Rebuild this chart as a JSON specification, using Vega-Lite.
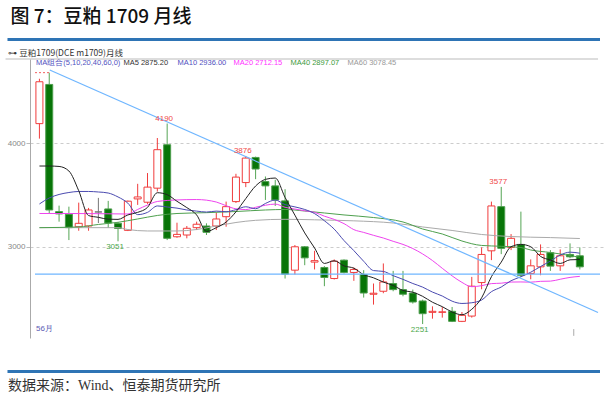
{
  "$schema": "https://vega.github.io/schema/vega-lite/v6.json",
  "width": 575,
  "height": 279,
  "autosize": {"type": "none"},
  "padding": {"left": 30, "top": 59, "right": 8, "bottom": 60},
  "background": "#ffffff",
  "config": {
    "view": {"stroke": null},
    "axisY": {"grid": true, "gridColor": "#cccccc", "gridDash": [3, 3], "gridWidth": 1,
              "domainColor": "#aaaaaa", "tickColor": "#bbbbbb", "tickSize": 4, "labelPadding": 1,
              "labelColor": "#888888", "labelFontSize": 8, "labelFont": "Liberation Sans", "format": "d"}
  },
  "data": {"values": [{}]},
  "datasets": {
    "k": [
      {"i":0,"o":4189,"h":4623,"l":4044,"c":4594},
      {"i":1,"o":4568,"h":4682,"l":3316,"c":3354},
      {"i":2,"o":3338,"h":3396,"l":3241,"c":3316},
      {"i":3,"o":3313,"h":3386,"l":3063,"c":3183},
      {"i":4,"o":3192,"h":3425,"l":3153,"c":3225},
      {"i":5,"o":3199,"h":3374,"l":3153,"c":3354},
      {"i":6,"o":3335,"h":3471,"l":3228,"c":3335},
      {"i":7,"o":3364,"h":3442,"l":3180,"c":3228},
      {"i":8,"o":3225,"h":3238,"l":3051,"c":3175},
      {"i":9,"o":3157,"h":3445,"l":3150,"c":3439},
      {"i":10,"o":3461,"h":3607,"l":3403,"c":3480},
      {"i":11,"o":3429,"h":3711,"l":3413,"c":3575},
      {"i":12,"o":3565,"h":4050,"l":3532,"c":3937},
      {"i":13,"o":3985,"h":4190,"l":3063,"c":3080},
      {"i":14,"o":3095,"h":3231,"l":3085,"c":3118},
      {"i":15,"o":3112,"h":3199,"l":3080,"c":3177},
      {"i":16,"o":3183,"h":3241,"l":3160,"c":3216},
      {"i":17,"o":3199,"h":3225,"l":3112,"c":3138},
      {"i":18,"o":3199,"h":3328,"l":3160,"c":3267},
      {"i":19,"o":3289,"h":3435,"l":3192,"c":3386},
      {"i":20,"o":3435,"h":3704,"l":3422,"c":3672},
      {"i":21,"o":3619,"h":3876,"l":3575,"c":3856},
      {"i":22,"o":3862,"h":3870,"l":3652,"c":3750},
      {"i":23,"o":3629,"h":3678,"l":3451,"c":3587},
      {"i":24,"o":3587,"h":3646,"l":3393,"c":3451},
      {"i":25,"o":3442,"h":3555,"l":2691,"c":2733},
      {"i":26,"o":2772,"h":3015,"l":2730,"c":2998},
      {"i":27,"o":2998,"h":3005,"l":2820,"c":2891},
      {"i":28,"o":2850,"h":2959,"l":2779,"c":2864},
      {"i":29,"o":2798,"h":2811,"l":2617,"c":2701},
      {"i":30,"o":2691,"h":2876,"l":2682,"c":2859},
      {"i":31,"o":2869,"h":2876,"l":2740,"c":2750},
      {"i":32,"o":2750,"h":2798,"l":2669,"c":2779},
      {"i":33,"o":2730,"h":2772,"l":2507,"c":2551},
      {"i":34,"o":2539,"h":2643,"l":2439,"c":2549},
      {"i":35,"o":2568,"h":2837,"l":2549,"c":2658},
      {"i":36,"o":2643,"h":2765,"l":2568,"c":2584},
      {"i":37,"o":2584,"h":2765,"l":2519,"c":2539},
      {"i":38,"o":2551,"h":2584,"l":2449,"c":2464},
      {"i":39,"o":2474,"h":2487,"l":2251,"c":2351},
      {"i":40,"o":2364,"h":2422,"l":2303,"c":2374},
      {"i":41,"o":2364,"h":2416,"l":2313,"c":2369},
      {"i":42,"o":2374,"h":2416,"l":2270,"c":2277},
      {"i":43,"o":2277,"h":2367,"l":2270,"c":2335},
      {"i":44,"o":2328,"h":2707,"l":2313,"c":2617},
      {"i":45,"o":2652,"h":2992,"l":2587,"c":2924},
      {"i":46,"o":2959,"h":3435,"l":2869,"c":3393},
      {"i":47,"o":3386,"h":3577,"l":2927,"c":2983},
      {"i":48,"o":2992,"h":3121,"l":2966,"c":3080},
      {"i":49,"o":3021,"h":3338,"l":2707,"c":2723},
      {"i":50,"o":2740,"h":2876,"l":2684,"c":2814},
      {"i":51,"o":2804,"h":3021,"l":2723,"c":2924},
      {"i":52,"o":2940,"h":2966,"l":2765,"c":2811},
      {"i":53,"o":2814,"h":2973,"l":2765,"c":2911},
      {"i":54,"o":2924,"h":3031,"l":2888,"c":2901},
      {"i":55,"o":2911,"h":2992,"l":2779,"c":2804}
    ],
    "ma": [
      {"s":"MA60","i":0,"v":3183},{"s":"MA60","i":8,"v":3183},{"s":"MA60","i":9,"v":3165},{"s":"MA60","i":11,"v":3151},{"s":"MA60","i":14,"v":3151},{"s":"MA60","i":16,"v":3165},{"s":"MA60","i":18,"v":3199},{"s":"MA60","i":20,"v":3233},{"s":"MA60","i":22,"v":3254},{"s":"MA60","i":25,"v":3264},{"s":"MA60","i":28,"v":3259},{"s":"MA60","i":32,"v":3249},{"s":"MA60","i":36,"v":3228},{"s":"MA60","i":39,"v":3190},{"s":"MA60","i":42,"v":3156},{"s":"MA60","i":45,"v":3117},{"s":"MA60","i":48,"v":3097},{"s":"MA60","i":52,"v":3087},{"s":"MA60","i":55,"v":3078},
      {"s":"MA40","i":0,"v":3183},{"s":"MA40","i":4,"v":3190},{"s":"MA40","i":6,"v":3214},{"s":"MA40","i":8,"v":3235},{"s":"MA40","i":10,"v":3267},{"s":"MA40","i":12,"v":3301},{"s":"MA40","i":14,"v":3320},{"s":"MA40","i":17,"v":3328},{"s":"MA40","i":20,"v":3339},{"s":"MA40","i":23,"v":3354},{"s":"MA40","i":25,"v":3359},{"s":"MA40","i":27,"v":3344},{"s":"MA40","i":29,"v":3325},{"s":"MA40","i":31,"v":3306},{"s":"MA40","i":34,"v":3281},{"s":"MA40","i":37,"v":3238},{"s":"MA40","i":39,"v":3170},{"s":"MA40","i":41,"v":3122},{"s":"MA40","i":43,"v":3054},{"s":"MA40","i":45,"v":3011},{"s":"MA40","i":47,"v":3003},{"s":"MA40","i":49,"v":2991},{"s":"MA40","i":50,"v":2967},{"s":"MA40","i":52,"v":2943},{"s":"MA40","i":55,"v":2897},
      {"s":"MA20","i":0,"v":3320},{"s":"MA20","i":3,"v":3320},{"s":"MA20","i":6,"v":3318},{"s":"MA20","i":9,"v":3315},{"s":"MA20","i":10,"v":3359},{"s":"MA20","i":11,"v":3402},{"s":"MA20","i":12,"v":3436},{"s":"MA20","i":14,"v":3451},{"s":"MA20","i":16,"v":3455},{"s":"MA20","i":18,"v":3431},{"s":"MA20","i":19,"v":3395},{"s":"MA20","i":20,"v":3365},{"s":"MA20","i":21,"v":3358},{"s":"MA20","i":22,"v":3380},{"s":"MA20","i":23,"v":3400},{"s":"MA20","i":24,"v":3411},{"s":"MA20","i":25,"v":3380},{"s":"MA20","i":26,"v":3363},{"s":"MA20","i":27,"v":3346},{"s":"MA20","i":28,"v":3331},{"s":"MA20","i":29,"v":3294},{"s":"MA20","i":30,"v":3263},{"s":"MA20","i":31,"v":3222},{"s":"MA20","i":32,"v":3164},{"s":"MA20","i":33,"v":3137},{"s":"MA20","i":34,"v":3109},{"s":"MA20","i":35,"v":3083},{"s":"MA20","i":36,"v":3051},{"s":"MA20","i":37,"v":3021},{"s":"MA20","i":38,"v":2981},{"s":"MA20","i":39,"v":2929},{"s":"MA20","i":40,"v":2865},{"s":"MA20","i":41,"v":2790},{"s":"MA20","i":42,"v":2717},{"s":"MA20","i":43,"v":2654},{"s":"MA20","i":44,"v":2612},{"s":"MA20","i":45,"v":2622},{"s":"MA20","i":46,"v":2642},{"s":"MA20","i":47,"v":2646},{"s":"MA20","i":48,"v":2657},{"s":"MA20","i":49,"v":2658},{"s":"MA20","i":50,"v":2656},{"s":"MA20","i":51,"v":2664},{"s":"MA20","i":52,"v":2666},{"s":"MA20","i":53,"v":2684},{"s":"MA20","i":54,"v":2702},{"s":"MA20","i":55,"v":2712},
      {"s":"MA10","i":0,"v":3412},{"s":"MA10","i":1,"v":3470},{"s":"MA10","i":2,"v":3504},{"s":"MA10","i":3,"v":3523},{"s":"MA10","i":4,"v":3533},{"s":"MA10","i":5,"v":3533},{"s":"MA10","i":6,"v":3528},{"s":"MA10","i":7,"v":3518},{"s":"MA10","i":8,"v":3480},{"s":"MA10","i":9,"v":3420},{"s":"MA10","i":10,"v":3309},{"s":"MA10","i":11,"v":3331},{"s":"MA10","i":12,"v":3393},{"s":"MA10","i":13,"v":3383},{"s":"MA10","i":14,"v":3372},{"s":"MA10","i":15,"v":3354},{"s":"MA10","i":16,"v":3343},{"s":"MA10","i":17,"v":3334},{"s":"MA10","i":18,"v":3343},{"s":"MA10","i":19,"v":3337},{"s":"MA10","i":20,"v":3357},{"s":"MA10","i":21,"v":3385},{"s":"MA10","i":22,"v":3366},{"s":"MA10","i":23,"v":3417},{"s":"MA10","i":24,"v":3450},{"s":"MA10","i":25,"v":3406},{"s":"MA10","i":26,"v":3384},{"s":"MA10","i":27,"v":3359},{"s":"MA10","i":28,"v":3319},{"s":"MA10","i":29,"v":3250},{"s":"MA10","i":30,"v":3169},{"s":"MA10","i":31,"v":3058},{"s":"MA10","i":32,"v":2961},{"s":"MA10","i":33,"v":2858},{"s":"MA10","i":34,"v":2768},{"s":"MA10","i":35,"v":2760},{"s":"MA10","i":36,"v":2719},{"s":"MA10","i":37,"v":2683},{"s":"MA10","i":38,"v":2643},{"s":"MA10","i":39,"v":2608},{"s":"MA10","i":40,"v":2560},{"s":"MA10","i":41,"v":2522},{"s":"MA10","i":42,"v":2472},{"s":"MA10","i":43,"v":2450},{"s":"MA10","i":44,"v":2457},{"s":"MA10","i":45,"v":2483},{"s":"MA10","i":46,"v":2564},{"s":"MA10","i":47,"v":2609},{"s":"MA10","i":48,"v":2670},{"s":"MA10","i":49,"v":2708},{"s":"MA10","i":50,"v":2752},{"s":"MA10","i":51,"v":2807},{"s":"MA10","i":52,"v":2860},{"s":"MA10","i":53,"v":2918},{"s":"MA10","i":54,"v":2946},{"s":"MA10","i":55,"v":2936},
      {"s":"MA5","i":0,"v":3779},{"s":"MA5","i":1,"v":3779},{"s":"MA5","i":2,"v":3775},{"s":"MA5","i":3,"v":3731},{"s":"MA5","i":4,"v":3540},{"s":"MA5","i":5,"v":3300},{"s":"MA5","i":6,"v":3283},{"s":"MA5","i":7,"v":3265},{"s":"MA5","i":8,"v":3263},{"s":"MA5","i":9,"v":3306},{"s":"MA5","i":10,"v":3331},{"s":"MA5","i":11,"v":3379},{"s":"MA5","i":12,"v":3521},{"s":"MA5","i":13,"v":3502},{"s":"MA5","i":14,"v":3438},{"s":"MA5","i":15,"v":3377},{"s":"MA5","i":16,"v":3306},{"s":"MA5","i":17,"v":3146},{"s":"MA5","i":18,"v":3183},{"s":"MA5","i":19,"v":3237},{"s":"MA5","i":20,"v":3336},{"s":"MA5","i":21,"v":3464},{"s":"MA5","i":22,"v":3586},{"s":"MA5","i":23,"v":3650},{"s":"MA5","i":24,"v":3663},{"s":"MA5","i":25,"v":3475},{"s":"MA5","i":26,"v":3304},{"s":"MA5","i":27,"v":3132},{"s":"MA5","i":28,"v":2987},{"s":"MA5","i":29,"v":2837},{"s":"MA5","i":30,"v":2863},{"s":"MA5","i":31,"v":2813},{"s":"MA5","i":32,"v":2791},{"s":"MA5","i":33,"v":2728},{"s":"MA5","i":34,"v":2698},{"s":"MA5","i":35,"v":2657},{"s":"MA5","i":36,"v":2624},{"s":"MA5","i":37,"v":2576},{"s":"MA5","i":38,"v":2559},{"s":"MA5","i":39,"v":2519},{"s":"MA5","i":40,"v":2462},{"s":"MA5","i":41,"v":2419},{"s":"MA5","i":42,"v":2367},{"s":"MA5","i":43,"v":2341},{"s":"MA5","i":44,"v":2394},{"s":"MA5","i":45,"v":2504},{"s":"MA5","i":46,"v":2709},{"s":"MA5","i":47,"v":2850},{"s":"MA5","i":48,"v":2999},{"s":"MA5","i":49,"v":3021},{"s":"MA5","i":50,"v":2999},{"s":"MA5","i":51,"v":2905},{"s":"MA5","i":52,"v":2870},{"s":"MA5","i":53,"v":2837},{"s":"MA5","i":54,"v":2872},{"s":"MA5","i":55,"v":2875}
    ],
    "hi": [
      {"i":13,"v":4190,"t":"4190"},
      {"i":21,"v":3876,"t":"3876"},
      {"i":47,"v":3577,"t":"3577"}
    ],
    "lo": [
      {"i":8,"v":3051,"t":"3051"},
      {"i":39,"v":2251,"t":"2251"}
    ]
  },
  "layer": [
    {
      "data": {"name": "k"},
      "mark": {"type": "rule", "strokeWidth": 1},
      "encoding": {
        "x": {"field": "i", "type": "quantitative", "scale": {"domain": [-0.45, 57.05], "nice": false, "zero": false}, "axis": null},
        "y": {"field": "l", "type": "quantitative", "scale": {"domain": [2116, 4814], "nice": false, "zero": false}, "title": null,
              "axis": {"values": [3000, 4000], "title": null, "format": "d"}},
        "y2": {"field": "h"},
        "stroke": {"condition": [{"test": "datum.c > datum.o", "value": "#f03c3c"}, {"test": "datum.c < datum.o", "value": "#55a555"}], "value": "#777777"}
      }
    },
    {
      "data": {"name": "k"},
      "mark": {"type": "bar", "width": 7, "strokeWidth": 1},
      "encoding": {
        "x": {"field": "i", "type": "quantitative", "axis": null},
        "y": {"field": "o", "type": "quantitative", "title": null},
        "y2": {"field": "c"},
        "fill": {"condition": [{"test": "datum.c > datum.o", "value": "#ffffff"}, {"test": "datum.c < datum.o", "value": "#087508"}], "value": "#777777"},
        "stroke": {"condition": [{"test": "datum.c > datum.o", "value": "#f03c3c"}, {"test": "datum.c < datum.o", "value": "#4d9d4d"}], "value": "#777777"}
      }
    },
    {
      "data": {"name": "ma"},
      "mark": {"type": "line", "strokeWidth": 1, "interpolate": "monotone"},
      "encoding": {
        "x": {"field": "i", "type": "quantitative", "axis": null},
        "y": {"field": "v", "type": "quantitative", "title": null},
        "color": {"field": "s", "type": "nominal", "legend": null,
                  "scale": {"domain": ["MA5", "MA10", "MA20", "MA40", "MA60"], "range": ["#222222", "#4a4ab0", "#ee44ee", "#4ea04e", "#aaaaaa"]}},
        "detail": {"field": "s"}
      }
    },
    {
      "mark": {"type": "rule", "color": "#6fb6ff", "strokeWidth": 1.2},
      "encoding": {
        "x": {"datum": 1.05, "type": "quantitative", "axis": null},
        "y": {"datum": 4708, "type": "quantitative", "title": null},
        "x2": {"datum": 56.85},
        "y2": {"datum": 2363}
      }
    },
    {
      "mark": {"type": "rule", "color": "#6fb6ff", "strokeWidth": 1.2},
      "encoding": {
        "x": {"datum": -0.45, "type": "quantitative", "axis": null},
        "x2": {"datum": 57.05},
        "y": {"datum": 2733, "type": "quantitative", "title": null}
      }
    },
    {
      "mark": {"type": "rule", "color": "#f06060", "strokeWidth": 1, "strokeDash": [2, 2]},
      "encoding": {
        "x": {"datum": -0.45, "type": "quantitative", "axis": null},
        "x2": {"datum": 1},
        "y": {"datum": 4682, "type": "quantitative", "title": null}
      }
    },
    {
      "data": {"name": "hi"},
      "mark": {"type": "text", "baseline": "bottom", "dy": -1, "dx": -3, "fontSize": 8, "font": "Liberation Sans", "color": "#f04848"},
      "encoding": {
        "x": {"field": "i", "type": "quantitative", "axis": null},
        "y": {"field": "v", "type": "quantitative", "title": null},
        "text": {"field": "t"}
      }
    },
    {
      "data": {"name": "lo"},
      "mark": {"type": "text", "baseline": "top", "dy": 2, "dx": -3, "fontSize": 8, "font": "Liberation Sans", "color": "#4ca84c"},
      "encoding": {
        "x": {"field": "i", "type": "quantitative", "axis": null},
        "y": {"field": "v", "type": "quantitative", "title": null},
        "text": {"field": "t"}
      }
    },
    {
      "mark": {"type": "text", "text": "MA组合(5,10,20,40,60,0)", "align": "left", "baseline": "middle", "fontSize": 7.5, "font": "Liberation Sans", "color": "#5050c0"},
      "encoding": {"x": {"datum": -0.35, "type": "quantitative", "axis": null}, "y": {"datum": 4771, "type": "quantitative", "title": null}}
    },
    {
      "mark": {"type": "text", "text": "MA5 2875.20", "align": "left", "baseline": "middle", "fontSize": 7.5, "font": "Liberation Sans", "color": "#333333"},
      "encoding": {"x": {"datum": 8.55, "type": "quantitative", "axis": null}, "y": {"datum": 4771, "type": "quantitative", "title": null}}
    },
    {
      "mark": {"type": "text", "text": "MA10 2936.00", "align": "left", "baseline": "middle", "fontSize": 7.5, "font": "Liberation Sans", "color": "#5050c0"},
      "encoding": {"x": {"datum": 14.05, "type": "quantitative", "axis": null}, "y": {"datum": 4771, "type": "quantitative", "title": null}}
    },
    {
      "mark": {"type": "text", "text": "MA20 2712.15", "align": "left", "baseline": "middle", "fontSize": 7.5, "font": "Liberation Sans", "color": "#ff33ff"},
      "encoding": {"x": {"datum": 19.75, "type": "quantitative", "axis": null}, "y": {"datum": 4771, "type": "quantitative", "title": null}}
    },
    {
      "mark": {"type": "text", "text": "MA40 2897.07", "align": "left", "baseline": "middle", "fontSize": 7.5, "font": "Liberation Sans", "color": "#3c9a3c"},
      "encoding": {"x": {"datum": 25.55, "type": "quantitative", "axis": null}, "y": {"datum": 4771, "type": "quantitative", "title": null}}
    },
    {
      "mark": {"type": "text", "text": "MA60 3078.45", "align": "left", "baseline": "middle", "fontSize": 7.5, "font": "Liberation Sans", "color": "#999999"},
      "encoding": {"x": {"datum": 31.35, "type": "quantitative", "axis": null}, "y": {"datum": 4771, "type": "quantitative", "title": null}}
    },
    {
      "mark": {"type": "text", "text": "56月", "align": "left", "baseline": "middle", "fontSize": 8, "font": "Liberation Sans", "color": "#5a5ab4", "clip": false},
      "encoding": {"x": {"datum": -0.35, "type": "quantitative", "axis": null}, "y": {"datum": 2202, "type": "quantitative", "title": null}}
    },
    {
      "mark": {"type": "rule", "color": "#aaaaaa", "strokeWidth": 1},
      "encoding": {"x": {"datum": 54.38, "type": "quantitative", "axis": null}, "y": {"datum": 2202, "type": "quantitative", "title": null}, "y2": {"datum": 2137}}
    },
    {
      "mark": {"type": "text", "text": "图 7：豆粕 1709 月线", "align": "left", "baseline": "middle", "fontSize": 19, "font": "Noto Sans CJK SC", "fontWeight": 500, "color": "#111111", "clip": false},
      "encoding": {"x": {"datum": -2.95, "type": "quantitative", "axis": null}, "y": {"datum": 5220, "type": "quantitative", "title": null}}
    },
    {
      "mark": {"type": "rule", "color": "#2e74b5", "strokeWidth": 3, "clip": false},
      "encoding": {"x": {"datum": -3.25, "type": "quantitative", "axis": null}, "x2": {"datum": 57.05}, "y": {"datum": 5003, "type": "quantitative", "title": null}}
    },
    {
      "mark": {"type": "text", "text": "⊶ 豆粕1709(DCE m1709)月线", "align": "left", "baseline": "middle", "fontSize": 8.5, "font": "Noto Sans CJK SC", "color": "#333333", "clip": false},
      "encoding": {"x": {"datum": -3.15, "type": "quantitative", "axis": null}, "y": {"datum": 4872, "type": "quantitative", "title": null}}
    },
    {
      "mark": {"type": "rule", "color": "#bbbbbb", "strokeWidth": 1, "clip": false},
      "encoding": {"x": {"datum": -3.45, "type": "quantitative", "axis": null}, "x2": {"datum": 56.85}, "y": {"datum": 4814, "type": "quantitative", "title": null}}
    },
    {
      "mark": {"type": "rule", "color": "#2e74b5", "strokeWidth": 3, "clip": false},
      "encoding": {"x": {"datum": -3.25, "type": "quantitative", "axis": null}, "x2": {"datum": 57.05}, "y": {"datum": 1792, "type": "quantitative", "title": null}}
    },
    {
      "mark": {"type": "text", "text": "数据来源：Wind、恒泰期货研究所", "align": "left", "baseline": "middle", "fontSize": 14, "font": "Liberation Serif, Noto Sans CJK SC", "color": "#333333", "clip": false},
      "encoding": {"x": {"datum": -3.2, "type": "quantitative", "axis": null}, "y": {"datum": 1655, "type": "quantitative", "title": null}}
    }
  ]
}
